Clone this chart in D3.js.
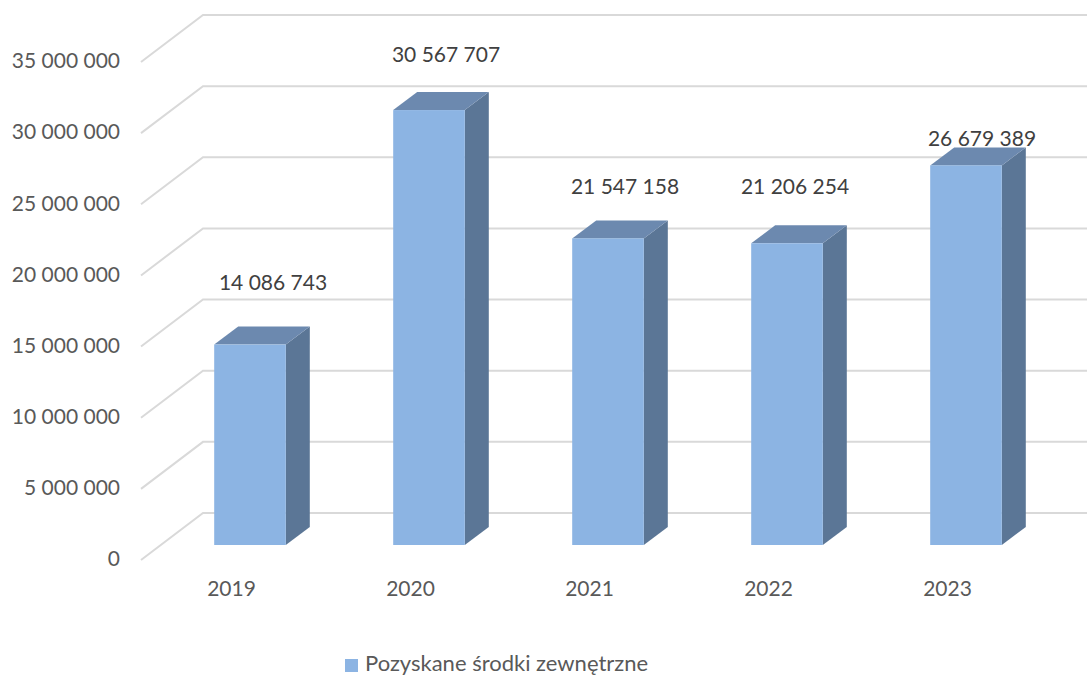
<!DOCTYPE html>
<html><head><meta charset="utf-8">
<script src="https://cdnjs.cloudflare.com/ajax/libs/d3/7.8.5/d3.min.js"></script>
<style>html,body{margin:0;padding:0;background:#fff}svg{display:block}text{font-family:Lato,"Open Sans",sans-serif}</style>
</head><body><svg id="c" width="1087" height="675"></svg>
<script>
const categories = ["2019","2020","2021","2022","2023"];
const values = [14086743,30567707,21547158,21206254,26679389];
const yTicks = [0,5000000,10000000,15000000,20000000,25000000,30000000,35000000];
const seriesName = "Pozyskane środki zewnętrzne";
// manual label nudges relative to the bar's front top edge, as placed in the source chart
const labelLift = [62,55,52,57,27];
const labelShift = [23,17,17,8,16];

const svg = d3.select("#c");
const fmt = v => d3.format(",")(v).replace(/,/g," ");
const W = 1087;
const wallY = d3.scaleLinear().domain([0,35000000]).range([513,15]);
const floorDX = 62, floorDY = 47;      // chart depth
const barDX = 24, barDY = 18;          // bar depth
const barFrontOffset = 32;             // bar front baseline below wall floor
const x = d3.scaleBand().domain(categories).range([160.5,1055.5]).paddingInner(0.6).paddingOuter(0.3);
const wallX = 203;

const grid = svg.append("g").attr("fill","none").attr("stroke","#D9D9D9").attr("stroke-width",2);
grid.selectAll("path").data(yTicks).join("path")
  .attr("d", d => { const y = wallY(d); return `M${wallX-floorDX},${y+floorDY}L${wallX},${y}L${W},${y}`; });

svg.append("g").selectAll("text").data(yTicks).join("text")
  .attr("x",120).attr("y",d=>wallY(d)+floorDY-1).attr("dy","0.35em")
  .attr("text-anchor","end").attr("font-size",21).attr("fill","#595959").text(fmt);

const bars = svg.append("g").selectAll("g").data(values).join("g");
const bx = (d,i)=>x(categories[i]);
const by = d=>wallY(d)+barFrontOffset;
const by0 = by(0);
bars.append("path").attr("fill","#5B7696")
  .attr("d",(d,i)=>{const r=bx(d,i)+x.bandwidth(),t=by(d);return `M${r},${t}L${r+barDX},${t-barDY}L${r+barDX},${by0-barDY}L${r},${by0}Z`;});
bars.append("path").attr("fill","#6C89AF")
  .attr("d",(d,i)=>{const l=bx(d,i),r=l+x.bandwidth(),t=by(d);return `M${l},${t}L${l+barDX},${t-barDY}L${r+barDX},${t-barDY}L${r},${t}Z`;});
bars.append("rect").attr("fill","#8CB4E3")
  .attr("x",(d,i)=>bx(d,i)).attr("y",d=>by(d)).attr("width",x.bandwidth()).attr("height",d=>by0-by(d));

svg.append("g").selectAll("text").data(values).join("text")
  .attr("x",(d,i)=>bx(d,i)+x.bandwidth()/2+labelShift[i]).attr("y",(d,i)=>by(d)-labelLift[i]).attr("dy","0.35em")
  .attr("text-anchor","middle").attr("font-size",21).attr("fill","#404040").text(fmt);

svg.append("g").selectAll("text").data(categories).join("text")
  .attr("x",d=>x(d)+x.bandwidth()/2-18.5).attr("y",589).attr("dy","0.35em")
  .attr("text-anchor","middle").attr("font-size",21).attr("fill","#595959").text(d=>d);

svg.append("rect").attr("x",345).attr("y",659).attr("width",13).attr("height",13).attr("fill","#8CB4E3");
svg.append("text").attr("x",365).attr("y",663).attr("dy","0.35em").attr("font-size",22).attr("fill","#595959").text(seriesName);
</script></body></html>
